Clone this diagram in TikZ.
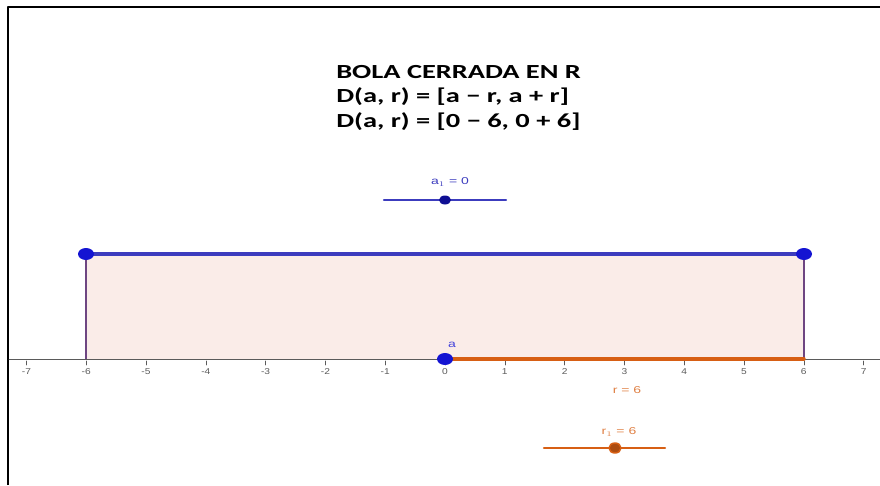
\documentclass[tikz,border=0pt]{standalone}
\usepackage{fontspec}
\setmainfont{Carlito}
\setsansfont{Liberation Sans}
\usetikzlibrary{shapes.geometric}
\definecolor{ggblue}{RGB}{20,20,210}
\definecolor{ggline}{RGB}{60,60,190}
\definecolor{ggorange}{RGB}{215,95,20}
\definecolor{ggfill}{RGB}{250,236,232}
\definecolor{ggside}{RGB}{110,70,130}
\definecolor{ggtick}{RGB}{90,90,90}
\tikzset{
  dot/.style={ellipse, fill=ggblue, inner sep=0pt, minimum width=16pt, minimum height=12pt},
  odot/.style={ellipse, fill=ggorange!80!black, draw=ggorange, line width=1.5pt, inner sep=0pt, minimum width=12pt, minimum height=10pt},
  ticklbl/.style={font=\sffamily\fontsize{8.5}{9}\selectfont, text=ggtick, xscale=1.2},
  small/.style={font=\sffamily\fontsize{10}{11}\selectfont, xscale=1.4},
  title/.style={font=\bfseries\fontsize{20}{22}\selectfont, anchor=west, inner sep=0pt, xscale=1.42}
}
\begin{document}
\begin{tikzpicture}[x=1pt, y=-1pt, line cap=round, line join=round]
    % frame of the graphics view (left and top only)
    \useasboundingbox (0,0) rectangle (880,485);
    \draw[line width=1.8pt, line cap=butt] (8,485) -- (8,7) -- (880,7);
    % closed ball [a-r, a+r] as shaded region
    \coordinate (L) at (86,359);
    \coordinate (R) at (804,359);
    \coordinate (LT) at (86,254);
    \coordinate (RT) at (804,254);
    \fill[ggfill] (L) rectangle (RT);
    \draw[ggside, line width=1.6pt] (L) -- (LT);
    \draw[ggside, line width=1.6pt] (R) -- (RT);
    % real axis
    \draw[ggtick, line width=0.8pt] (9,359) -- (880,359);
    \foreach \k in {-7,...,7} {
      \draw[ggtick, line width=0.6pt] (445+59.8*\k,361) -- (445+59.8*\k,365);
      \node[ticklbl] at (445+59.8*\k,372) {\k};
    }
    % radius segment
    \draw[ggorange, line width=3.4pt] (445,359) -- (R);
    \node[small, text=ggorange!80] at (627,390) {r = 6};
    % endpoints and top edge
    \draw[ggline, line width=3.4pt] (LT) -- (RT);
    \node[dot] (pl) at (LT) {};
    \node[dot] (pr) at (RT) {};
    \node[dot] (a) at (445,359) {};
    \node[small, text=ggblue!80] at (452,345) {a};
    % slider a_1
    \draw[ggline, line width=2.4pt] (384,200) -- (506,200);
    \node[dot, minimum width=12pt, minimum height=9pt, fill=ggblue!70!black] (sa) at (445,200) {};
    \node[small, text=ggline] at (450,182) {a$_1$ = 0};
    % slider r_1
    \draw[ggorange, line width=2.4pt] (544,448) -- (665,448);
    \node[odot] (sr) at (615,448) {};
    \node[small, text=ggorange!80] at (619,432) {r$_1$ = 6};
    % title text
    \node[title] (t1) at (336,72) {BOLA CERRADA EN R};
    \node[title] (t2) at (336,97) {D(a, r) = [a − r, a + r]};
    \node[title] (t3) at (336,122) {D(a, r) = [0 − 6, 0 + 6]};
\end{tikzpicture}
\end{document}
